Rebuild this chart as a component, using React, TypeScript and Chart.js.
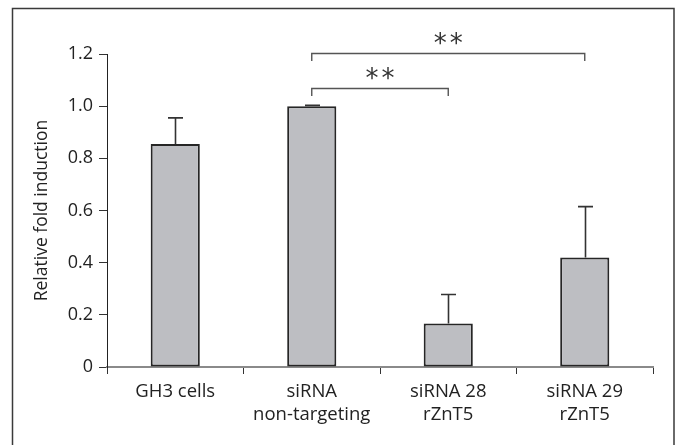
import React, { useEffect, useRef } from "react";
import { Chart, registerables } from "chart.js";

Chart.register(...registerables);

// ---- data ----
const categories: string[][] = [
  ["GH3 cells"],
  ["siRNA", "non-targeting"],
  ["siRNA 28", "rZnT5"],
  ["siRNA 29", "rZnT5"],
];
const means: number[] = [0.855, 1.0, 0.167, 0.42];
const errors: number[] = [0.1, 0.003, 0.111, 0.195];
const yTicks: number[] = [0, 0.2, 0.4, 0.6, 0.8, 1.0, 1.2];
const sigFrom: number[] = [1, 1];
const sigTo: number[] = [2, 3];
const sigLevel: number[] = [1.068, 1.203];
const sigLabel: string[] = ["**", "**"];
const yTitle = "Relative fold induction";

const FONT = "'Open Sans', 'DejaVu Sans', sans-serif";
const TEXT = "#222222";

const framePlugin = {
  id: "frame",
  afterDraw(chart: any) {
    const ctx = chart.ctx;
    ctx.save();
    ctx.strokeStyle = "#3a3a3a";
    ctx.lineWidth = 1.5;
    ctx.beginPath();
    ctx.moveTo(12.5, 445);
    ctx.lineTo(12.5, 8.5);
    ctx.lineTo(674, 8.5);
    ctx.lineTo(674, 445);
    ctx.stroke();
    ctx.restore();
  },
};

const errorBarPlugin = {
  id: "errorBars",
  afterDatasetsDraw(chart: any) {
    const ctx = chart.ctx;
    const y = chart.scales.y;
    const meta = chart.getDatasetMeta(0);
    ctx.save();
    ctx.strokeStyle = "#333333";
    ctx.lineWidth = 1.6;
    meta.data.forEach((bar: any, i: number) => {
      const x = Math.round(bar.x) + 0.5;
      const base = y.getPixelForValue(means[i]);
      const top = y.getPixelForValue(means[i] + errors[i]);
      ctx.beginPath();
      ctx.moveTo(x, base);
      ctx.lineTo(x, top);
      ctx.moveTo(x - 7.5, top);
      ctx.lineTo(x + 7.5, top);
      ctx.stroke();
    });
    ctx.restore();
  },
};

const bracketPlugin = {
  id: "brackets",
  afterDraw(chart: any) {
    const ctx = chart.ctx;
    const xs = chart.scales.x;
    const ys = chart.scales.y;
    ctx.save();
    ctx.strokeStyle = "#555555";
    ctx.lineWidth = 1.4;
    sigFrom.forEach((f, i) => {
      const x1 = xs.getPixelForValue(f);
      const x2 = xs.getPixelForValue(sigTo[i]);
      const yy = Math.round(ys.getPixelForValue(sigLevel[i])) + 0.5;
      ctx.beginPath();
      ctx.moveTo(x1, yy + 7.5);
      ctx.lineTo(x1, yy);
      ctx.lineTo(x2, yy);
      ctx.lineTo(x2, yy + 7.5);
      ctx.stroke();
      ctx.fillStyle = "#333333";
      ctx.font = "26px 'DejaVu Sans', sans-serif";
      (ctx as any).letterSpacing = "3px";
      ctx.textAlign = "center";
      ctx.textBaseline = "middle";
      ctx.fillText(sigLabel[i], (x1 + x2) / 2 + 1.5, yy - 8.5);
    });
    ctx.restore();
  },
};

export default function App() {
  const ref = useRef<HTMLCanvasElement>(null);

  useEffect(() => {
    document.body.style.margin = "0";
    const canvas = ref.current;
    if (!canvas) return;
    const chart = new Chart(canvas, {
      type: "bar",
      data: {
        labels: categories as any,
        datasets: [
          {
            data: means,
            backgroundColor: "#bdbec2",
            borderColor: "#262626",
            borderWidth: 2,
            borderSkipped: false,
            barPercentage: 0.36,
            categoryPercentage: 1,
          },
        ],
      },
      options: {
        responsive: false,
        animation: false,
        devicePixelRatio: 1,
        layout: { padding: { top: 54, right: 28, bottom: 0, left: 0 } },
        plugins: {
          legend: { display: false },
          tooltip: { enabled: false },
        },
        scales: {
          x: {
            offset: true,
            grid: {
              offset: true,
              drawOnChartArea: false,
              drawTicks: true,
              tickLength: 7,
              color: "#333333",
              lineWidth: 1,
            },
            border: { display: true, color: "#8a8a8a", width: 2 },
            ticks: {
              color: TEXT,
              font: { family: FONT, size: 18.5, lineHeight: 1.24 },
              padding: 6,
              maxRotation: 0,
              autoSkip: false,
            },
            afterFit: (s: any) => {
              s.height = 78;
            },
          },
          y: {
            min: 0,
            max: 1.2,
            grid: {
              drawOnChartArea: false,
              drawTicks: true,
              tickLength: 8,
              color: "#333333",
              lineWidth: 1,
            },
            border: { display: true, color: "#222222", width: 1 },
            ticks: {
              color: TEXT,
              font: { family: FONT, size: 18 },
              padding: 6,
              callback: (v: any) => (Number(v) === 0 ? "0" : Number(v).toFixed(1)),
            },
            afterBuildTicks: (s: any) => {
              s.ticks = yTicks.map((v) => ({ value: v }));
            },
            title: {
              display: true,
              text: yTitle,
              color: TEXT,
              font: { family: FONT, size: 17.5 },
              padding: { top: 32, bottom: 0 },
            },
            afterFit: (s: any) => {
              s.width = 107;
            },
          },
        },
      },
      plugins: [errorBarPlugin, bracketPlugin, framePlugin],
    });
    return () => chart.destroy();
  }, []);

  return (
    <div style={{ position: "absolute", left: 0, top: 0, width: 681, height: 445, background: "#fff" }}>
      <canvas ref={ref} width={681} height={445} style={{ display: "block" }} />
    </div>
  );
}
